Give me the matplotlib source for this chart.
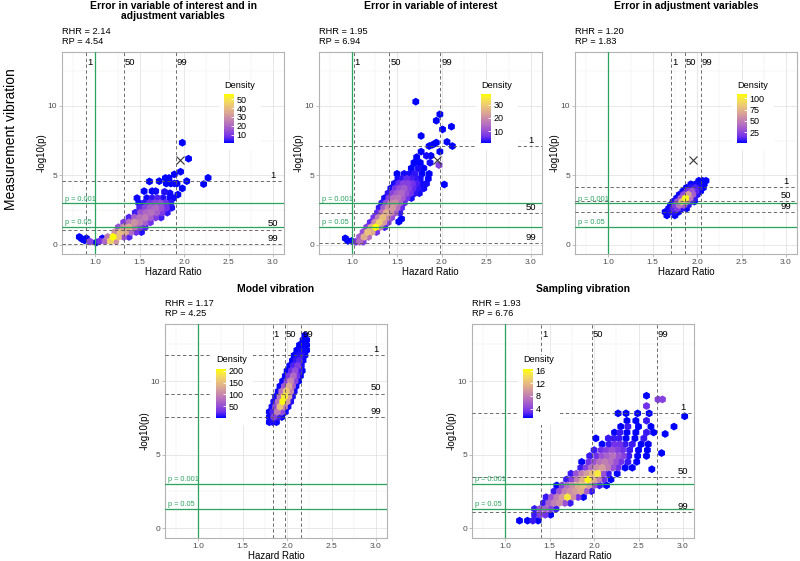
import numpy as np
import matplotlib.pyplot as plt
from matplotlib.colors import LinearSegmentedColormap, Normalize
from matplotlib.cm import ScalarMappable
from matplotlib.patches import Rectangle

plt.rcParams['font.family'] = ['Liberation Sans', 'DejaVu Sans']

# ---- data ----
titles = ['Error in variable of interest and in\nadjustment variables',
          'Error in variable of interest',
          'Error in adjustment variables',
          'Model vibration',
          'Sampling vibration']
rhr = ['2.14', '1.95', '1.20', '1.17', '1.93']
rp = ['4.54', '6.94', '1.83', '4.25', '6.76']
pct_labels = ['1', '50', '99']
hr_pct = [[0.90, 1.32, 1.91], [1.015, 1.415, 1.985], [1.71, 1.865, 2.04],
          [1.84, 1.98, 2.16], [1.405, 1.98, 2.705]]
logp_pct = [[4.55, 1.08, 0.02], [7.1, 2.24, 0.12], [4.16, 3.13, 2.33],
            [11.75, 9.14, 7.52], [7.84, 3.48, 1.07]]
dens_max = [55.6, 38.2, 110.0, 207.0, 16.5]
dens_ticks = [[10, 20, 30, 40, 50], [10, 20, 30], [25, 50, 75, 100],
              [50, 100, 150, 200], [4, 8, 12, 16]]
ref_point = (1.95, 6.1)   # the x marker in the top row

# hex cells: (hazard ratio, -log10 p, count)
p1_cells = [
    (1.05, 0.25, 8), (1.11, 0.25, 20), (1.17, 0.25, 45), (1.23, 0.25, 30),
    (1.14, 0.55, 25), (1.20, 0.55, 55), (1.26, 0.55, 40), (1.32, 0.55, 15), (1.38, 0.55, 6),
    (1.22, 0.9, 30), (1.28, 0.9, 40), (1.34, 0.9, 35), (1.40, 0.9, 20), (1.46, 0.9, 8), (1.52, 0.9, 3),
    (1.26, 1.25, 15), (1.32, 1.25, 30), (1.38, 1.25, 35), (1.44, 1.25, 25), (1.50, 1.25, 12), (1.56, 1.25, 6),
    (1.32, 1.6, 10), (1.38, 1.6, 22), (1.44, 1.6, 30), (1.50, 1.6, 25), (1.56, 1.6, 18), (1.62, 1.6, 8),
    (1.38, 1.95, 6), (1.44, 1.95, 18), (1.50, 1.95, 22), (1.56, 1.95, 25), (1.62, 1.95, 18), (1.68, 1.95, 10), (1.74, 1.95, 5),
    (1.45, 2.3, 5), (1.51, 2.3, 15), (1.57, 2.3, 20), (1.63, 2.3, 22), (1.69, 2.3, 18), (1.75, 2.3, 10), (1.81, 2.3, 4),
    (1.50, 2.65, 6), (1.56, 2.65, 12), (1.62, 2.65, 18), (1.68, 2.65, 20), (1.74, 2.65, 15), (1.80, 2.65, 8), (1.86, 2.65, 3),
    (1.49, 3.0, 2), (1.55, 3.0, 4), (1.61, 3.0, 8), (1.67, 3.0, 12), (1.73, 3.0, 14), (1.79, 3.0, 8), (1.85, 3.0, 4),
    (1.58, 3.35, 2), (1.64, 3.35, 4), (1.70, 3.35, 6), (1.76, 3.35, 3), (1.84, 3.35, 2),
    (0.82, 0.55, 1), (0.85, 0.4, 1), (0.88, 0.3, 1), (0.90, 0.45, 1), (0.94, 0.22, 12),
    (1.01, 0.15, 1), (1.08, 0.45, 2),
    (1.47, 3.35, 2), (1.55, 3.85, 1), (1.64, 3.85, 1), (1.68, 3.85, 2), (1.78, 3.8, 3),
    (1.84, 3.7, 2), (1.88, 3.35, 2), (1.93, 3.6, 1), (1.61, 4.55, 1), (1.72, 4.57, 1),
    (1.80, 4.4, 1), (1.85, 4.4, 1), (1.89, 4.4, 2), (1.92, 4.4, 1), (1.79, 4.8, 1),
    (1.83, 4.8, 1), (1.89, 5.06, 1), (1.96, 5.25, 1), (2.03, 4.57, 1), (1.98, 4.05, 1),
    (2.05, 6.19, 1), (1.98, 7.34, 1), (2.27, 4.81, 1), (2.22, 4.36, 1),
]
p2_cells = [
    (1.04, 0.2, 6), (1.08, 0.2, 15), (1.12, 0.2, 8),
    (1.08, 0.55, 12), (1.13, 0.55, 25), (1.18, 0.55, 15),
    (1.12, 0.9, 10), (1.17, 0.9, 28), (1.22, 0.9, 25), (1.27, 0.9, 6),
    (1.16, 1.25, 8), (1.21, 1.25, 25), (1.26, 1.25, 38), (1.31, 1.25, 20), (1.36, 1.25, 4),
    (1.20, 1.6, 5), (1.25, 1.6, 20), (1.30, 1.6, 30), (1.35, 1.6, 22), (1.40, 1.6, 8),
    (1.24, 1.95, 6), (1.29, 1.95, 18), (1.34, 1.95, 28), (1.39, 1.95, 20), (1.44, 1.95, 10),
    (1.28, 2.3, 5), (1.33, 2.3, 15), (1.38, 2.3, 25), (1.43, 2.3, 20), (1.48, 2.3, 12), (1.53, 2.3, 3),
    (1.30, 2.65, 3), (1.35, 2.65, 12), (1.40, 2.65, 20), (1.45, 2.65, 22), (1.50, 2.65, 15), (1.55, 2.65, 5),
    (1.33, 3.0, 3), (1.38, 3.0, 10), (1.43, 3.0, 18), (1.48, 3.0, 20), (1.53, 3.0, 14), (1.58, 3.0, 5),
    (1.36, 3.35, 2), (1.41, 3.35, 8), (1.46, 3.35, 15), (1.51, 3.35, 16), (1.56, 3.35, 12), (1.61, 3.35, 6), (1.66, 3.35, 2),
    (1.40, 3.7, 3), (1.45, 3.7, 8), (1.50, 3.7, 12), (1.55, 3.7, 14), (1.60, 3.7, 10), (1.65, 3.7, 6), (1.70, 3.7, 3), (1.75, 3.7, 2),
    (1.43, 4.05, 2), (1.48, 4.05, 6), (1.53, 4.05, 10), (1.58, 4.05, 12), (1.63, 4.05, 8), (1.68, 4.05, 5), (1.73, 4.05, 3), (1.80, 4.05, 2),
    (1.47, 4.4, 2), (1.52, 4.4, 5), (1.57, 4.4, 8), (1.62, 4.4, 8), (1.67, 4.4, 6), (1.72, 4.4, 4), (1.77, 4.4, 2), (1.83, 4.4, 2),
    (1.51, 4.75, 2), (1.56, 4.75, 3), (1.61, 4.75, 5), (1.66, 4.75, 4), (1.71, 4.75, 3), (1.76, 4.75, 2), (1.85, 4.75, 1),
    (1.50, 5.1, 1), (1.58, 5.1, 2), (1.64, 5.1, 2), (1.70, 5.1, 3), (1.78, 5.1, 1), (1.86, 5.1, 1),
    (1.66, 5.5, 1), (1.74, 5.5, 2), (1.80, 5.5, 1),
    (1.70, 5.9, 1), (1.76, 5.9, 1), (1.87, 5.9, 2),
    (0.92, 0.45, 1), (0.95, 0.26, 1), (0.99, 0.26, 1), (1.52, 1.65, 1), (1.55, 1.85, 1),
    (1.71, 10.3, 1), (1.98, 9.39, 1), (1.94, 8.93, 1), (2.11, 8.5, 1), (2.01, 8.3, 1),
    (1.77, 7.83, 1), (1.94, 7.35, 1), (2.06, 7.4, 1), (2.12, 7.1, 1), (1.86, 7.1, 1),
    (1.90, 7.2, 1), (1.77, 6.7, 1), (1.83, 6.4, 2), (1.88, 6.4, 1), (1.98, 6.7, 1),
    (1.97, 5.73, 8), (2.03, 4.33, 1), (1.72, 6.3, 1), (1.69, 5.9, 1),
]
p3_cells = [
    (1.66, 2.1, 1), (1.75, 2.1, 2),
    (1.64, 2.35, 1), (1.69, 2.35, 4), (1.74, 2.35, 6), (1.79, 2.35, 2),
    (1.68, 2.6, 3), (1.73, 2.6, 12), (1.78, 2.6, 20), (1.83, 2.6, 6), (1.88, 2.6, 1),
    (1.70, 2.85, 2), (1.75, 2.85, 20), (1.80, 2.85, 45), (1.85, 2.85, 30), (1.90, 2.85, 6),
    (1.73, 3.1, 4), (1.78, 3.1, 30), (1.83, 3.1, 80), (1.88, 3.1, 60), (1.93, 3.1, 10), (1.97, 3.1, 2),
    (1.77, 3.35, 3), (1.82, 3.35, 35), (1.87, 3.35, 105), (1.92, 3.35, 45), (1.97, 3.35, 8),
    (1.80, 3.6, 3), (1.85, 3.6, 25), (1.90, 3.6, 65), (1.95, 3.6, 35), (2.00, 3.6, 5),
    (1.84, 3.85, 2), (1.89, 3.85, 15), (1.94, 3.85, 30), (1.99, 3.85, 12), (2.04, 3.85, 2),
    (1.88, 4.1, 2), (1.93, 4.1, 6), (1.98, 4.1, 10), (2.03, 4.1, 4), (2.07, 4.1, 1),
    (1.93, 4.35, 2), (1.98, 4.35, 3), (2.03, 4.35, 3), (2.08, 4.35, 1),
    (2.02, 4.6, 1), (2.06, 4.6, 1), (2.10, 4.6, 1),
]
p4_cells = [
    (1.80, 7.2, 3), (1.84, 7.2, 8), (1.88, 7.2, 4),
    (1.80, 7.55, 5), (1.85, 7.55, 40), (1.90, 7.55, 15), (1.94, 7.55, 3),
    (1.80, 7.9, 3), (1.84, 7.9, 20), (1.89, 7.9, 90), (1.94, 7.9, 50), (1.98, 7.9, 5),
    (1.83, 8.25, 6), (1.87, 8.25, 50), (1.92, 8.25, 150), (1.97, 8.25, 90), (2.01, 8.25, 6),
    (1.85, 8.6, 8), (1.90, 8.6, 80), (1.95, 8.6, 200), (2.00, 8.6, 120), (2.04, 8.6, 10),
    (1.87, 8.95, 6), (1.92, 8.95, 90), (1.97, 8.95, 190), (2.02, 8.95, 130), (2.06, 8.95, 8),
    (1.90, 9.3, 5), (1.94, 9.3, 80), (1.99, 9.3, 160), (2.04, 9.3, 100), (2.08, 9.3, 6),
    (1.92, 9.65, 4), (1.97, 9.65, 60), (2.02, 9.65, 130), (2.06, 9.65, 70), (2.10, 9.65, 4),
    (1.95, 10.0, 3), (2.00, 10.0, 45), (2.04, 10.0, 100), (2.09, 10.0, 45), (2.13, 10.0, 3),
    (1.98, 10.35, 3), (2.02, 10.35, 35), (2.07, 10.35, 75), (2.11, 10.35, 30), (2.15, 10.35, 2),
    (2.00, 10.7, 2), (2.05, 10.7, 25), (2.09, 10.7, 50), (2.14, 10.7, 15), (2.17, 10.7, 2),
    (2.03, 11.05, 2), (2.07, 11.05, 18), (2.12, 11.05, 35), (2.16, 11.05, 8),
    (2.06, 11.4, 2), (2.10, 11.4, 12), (2.14, 11.4, 20), (2.18, 11.4, 4),
    (2.08, 11.75, 2), (2.12, 11.75, 8), (2.16, 11.75, 10), (2.20, 11.75, 2),
    (2.11, 12.1, 1), (2.15, 12.1, 5), (2.19, 12.1, 4), (2.22, 12.1, 1),
    (2.14, 12.45, 1), (2.18, 12.45, 3), (2.22, 12.45, 1),
    (2.18, 12.8, 1), (2.22, 12.8, 1), (2.20, 13.1, 1),
]
p5_cells = [
    (1.16, 0.5, 1), (1.25, 0.5, 1), (1.31, 0.5, 2), (1.37, 0.5, 1),
    (1.33, 0.9, 2), (1.39, 0.9, 4), (1.45, 0.9, 3), (1.51, 0.9, 1),
    (1.33, 1.3, 2), (1.39, 1.3, 5), (1.45, 1.3, 6), (1.51, 1.3, 4), (1.57, 1.3, 2),
    (1.43, 1.7, 2), (1.49, 1.7, 6), (1.55, 1.7, 8), (1.61, 1.7, 9), (1.67, 1.7, 5), (1.73, 1.7, 2),
    (1.46, 2.1, 2), (1.52, 2.1, 5), (1.58, 2.1, 8), (1.64, 2.1, 10), (1.70, 2.1, 15), (1.76, 2.1, 9), (1.82, 2.1, 3), (1.88, 2.1, 1),
    (1.55, 2.5, 2), (1.61, 2.5, 5), (1.67, 2.5, 8), (1.73, 2.5, 9), (1.79, 2.5, 10), (1.85, 2.5, 11), (1.91, 2.5, 6), (1.97, 2.5, 2),
    (1.58, 2.9, 1), (1.64, 2.9, 4), (1.70, 2.9, 7), (1.76, 2.9, 9), (1.82, 2.9, 11), (1.88, 2.9, 12), (1.94, 2.9, 10), (2.00, 2.9, 5), (2.06, 2.9, 2), (2.14, 2.9, 1),
    (1.69, 3.3, 2), (1.75, 3.3, 4), (1.81, 3.3, 8), (1.87, 3.3, 11), (1.93, 3.3, 16), (1.99, 3.3, 11), (2.05, 3.3, 8), (2.11, 3.3, 3), (2.19, 3.3, 1),
    (1.74, 3.7, 2), (1.80, 3.7, 5), (1.86, 3.7, 8), (1.92, 3.7, 10), (1.98, 3.7, 12), (2.04, 3.7, 15), (2.10, 3.7, 5), (2.16, 3.7, 2), (2.26, 3.7, 1),
    (1.85, 4.1, 2), (1.91, 4.1, 4), (1.97, 4.1, 7), (2.03, 4.1, 9), (2.09, 4.1, 10), (2.15, 4.1, 8), (2.21, 4.1, 5), (2.27, 4.1, 3), (2.35, 4.1, 1), (2.43, 4.1, 1),
    (1.86, 4.5, 1), (1.94, 4.5, 3), (2.00, 4.5, 5), (2.06, 4.5, 7), (2.12, 4.5, 8), (2.18, 4.5, 7), (2.24, 4.5, 5), (2.30, 4.5, 3), (2.38, 4.5, 2), (2.48, 4.5, 1),
    (1.95, 4.9, 2), (2.03, 4.9, 3), (2.09, 4.9, 5), (2.15, 4.9, 6), (2.21, 4.9, 7), (2.27, 4.9, 5), (2.33, 4.9, 4), (2.39, 4.9, 2), (2.49, 4.9, 1), (2.59, 4.9, 1),
    (2.00, 5.3, 2), (2.08, 5.3, 3), (2.14, 5.3, 4), (2.20, 5.3, 5), (2.26, 5.3, 4), (2.32, 5.3, 3), (2.40, 5.3, 2), (2.50, 5.3, 1), (2.60, 5.3, 1),
    (2.09, 5.7, 1), (2.17, 5.7, 2), (2.23, 5.7, 3), (2.29, 5.7, 3), (2.35, 5.7, 2), (2.43, 5.7, 2), (2.53, 5.7, 1), (2.61, 5.7, 1),
    (2.02, 6.1, 1), (2.16, 6.1, 2), (2.22, 6.1, 2), (2.28, 6.1, 2), (2.36, 6.1, 1), (2.46, 6.1, 1), (2.56, 6.1, 2),
    (2.23, 6.5, 1), (2.29, 6.5, 2), (2.37, 6.5, 1), (2.47, 6.5, 1), (2.59, 6.5, 2), (2.67, 6.5, 1),
    (2.30, 6.9, 1), (2.38, 6.9, 2), (2.50, 6.9, 1), (2.64, 6.9, 1), (2.90, 6.9, 1),
    (2.37, 7.3, 1), (2.47, 7.3, 1), (2.59, 7.3, 2),
    (2.27, 7.8, 1), (2.36, 7.8, 1), (2.49, 7.8, 1), (2.62, 7.8, 1),
    (2.59, 9.0, 1), (2.59, 8.3, 3), (2.72, 8.75, 4), (2.77, 8.75, 4), (3.02, 7.6, 1),
    (2.80, 6.4, 1), (2.76, 5.1, 1), (2.65, 4.0, 1),
]
all_cells = [p1_cells, p2_cells, p3_cells, p4_cells, p5_cells]

# ---- layout (pixel boxes: left, top, right, bottom) ----
W, H = 800, 561
boxes = [(62, 52, 284, 254), (319, 52, 542, 254), (575, 52, 797, 254),
         (165, 324, 387, 538), (472, 324, 694, 538)]
legend_at = [(224, 94), (481, 94), (737, 94), (216, 369), (523, 369)]
title_top = [1, 1, 1, 284, 284]

cmap = LinearSegmentedColormap.from_list('bl_yl', ['#0000FF', '#7030EC', '#9750D6', '#B36EC1',
                                                   '#C98AAA', '#DBA892', '#EBC478', '#F5E153', '#FFFF00'])
green = '#2ca25f'
dash_col = '#555555'

fig = plt.figure(figsize=(8, 5.61), dpi=100)

for i in range(5):
    l, t, r, b = boxes[i]
    ax = fig.add_axes([l / W, 1 - b / H, (r - l) / W, (b - t) / H])
    ax.set_xlim(0.625, 3.125)
    ax.set_ylim(-0.68, 13.88)
    ax.set_xticks([1, 1.5, 2, 2.5, 3])
    ax.set_xticklabels(['1.0', '1.5', '2.0', '2.5', '3.0'])
    ax.set_xticks([0.75, 1.25, 1.75, 2.25, 2.75], minor=True)
    ax.set_yticks([0, 5, 10])
    ax.set_yticks([2.5, 7.5, 12.5], minor=True)
    ax.grid(which='major', color='#dedede', lw=0.5)
    ax.grid(which='minor', color='#ededed', lw=0.35)
    ax.set_axisbelow(True)
    for s in ax.spines.values():
        s.set_color('#b3b3b3')
        s.set_linewidth(0.8)
    ax.tick_params(which='major', length=2.5, color='#b3b3b3', width=0.6,
                   labelsize=6, labelcolor='#4d4d4d', pad=1)
    ax.tick_params(which='minor', length=0)
    ax.set_xlabel('Hazard Ratio', fontsize=7, labelpad=0.5)
    ax.set_ylabel('-log10(p)', fontsize=7, labelpad=0.5)

    norm = Normalize(1, dens_max[i])
    cells = sorted(all_cells[i], key=lambda c: c[2])
    hx = [c[0] for c in cells]
    hy = [c[1] for c in cells]
    hd = [c[2] for c in cells]
    ax.scatter(hx, hy, c=hd, cmap=cmap, norm=norm, marker='h', s=32,
               linewidths=0, zorder=2)

    # significance lines
    ax.axvline(1.0, color=green, lw=0.9, zorder=3)
    ax.axhline(3.0, color=green, lw=0.9, zorder=3)
    ax.axhline(-np.log10(0.05), color=green, lw=0.9, zorder=3)
    ax.text(0.655, 3.03, 'p = 0.001', color=green, fontsize=5.3, ha='left', va='bottom', zorder=4)
    ax.text(0.655, -np.log10(0.05) + 0.03, 'p = 0.05', color=green, fontsize=5.3,
            ha='left', va='bottom', zorder=4)

    # percentile lines
    for v, lab in zip(hr_pct[i], pct_labels):
        ax.axvline(v, color=dash_col, lw=0.6, ls=(0, (4, 3)), zorder=3)
        ax.text(v + 0.008, 13.15, lab, fontsize=6.8, ha='left', va='center', zorder=4)
    for v, lab in zip(logp_pct[i], pct_labels):
        ax.axhline(v, color=dash_col, lw=0.6, ls=(0, (4, 3)), zorder=3)
        ax.text(3.0, v + 0.08, lab, fontsize=6.8, ha='center', va='bottom', zorder=4)

    if i < 3:
        ax.plot(ref_point[0], ref_point[1], marker='x', color='#333333', ms=5.5, mew=0.8, zorder=5)

    # legend
    bx, by = legend_at[i]
    ax.add_patch(Rectangle(((bx - 5) / W, 1 - (by + 56) / H), 42 / W, 70 / H,
                           transform=fig.transFigure, facecolor='white', edgecolor='none', zorder=3.5))
    cax = fig.add_axes([bx / W, 1 - (by + 49) / H, 10 / W, 49 / H])
    cb = fig.colorbar(ScalarMappable(norm=norm, cmap=cmap), cax=cax, ticks=dens_ticks[i])
    cb.outline.set_visible(False)
    cax.tick_params(labelsize=6.5, length=2, color='white', direction='in', pad=2, width=0.6)
    fig.text(bx / W, 1 - (by - 9) / H, 'Density', fontsize=6.6, ha='left', va='center')

    # titles
    fig.text((l + r) / 2 / W, 1 - title_top[i] / H, titles[i], fontsize=7.5, fontweight='bold',
             ha='center', va='top', linespacing=1.05)
    fig.text(l / W, 1 - (t - 20) / H, 'RHR = ' + rhr[i], fontsize=6.7, ha='left', va='center')
    fig.text(l / W, 1 - (t - 10) / H, 'RP = ' + rp[i], fontsize=6.7, ha='left', va='center')

fig.text(11 / W, 1 - 139 / H, 'Measurement vibration', fontsize=10, rotation=90,
         ha='center', va='center')

plt.savefig('out.png', dpi=100)
